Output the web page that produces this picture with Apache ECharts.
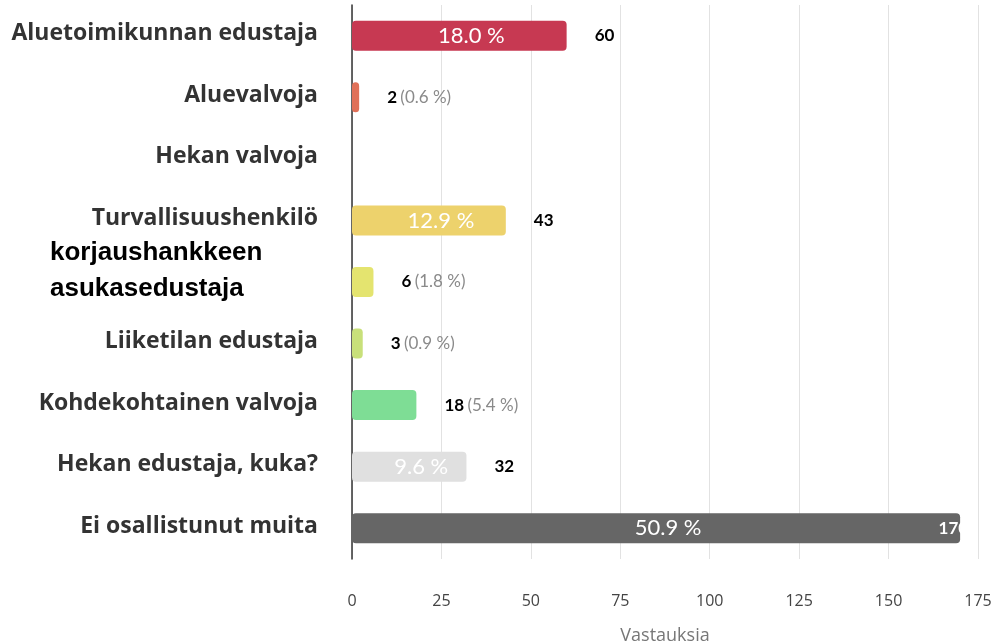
<!DOCTYPE html>
<html>
<head>
<meta charset="utf-8">
<script src="https://cdn.jsdelivr.net/npm/echarts@6/dist/echarts.min.js"></script>
<style>
  html, body { margin: 0; padding: 0; background: #fff; }
  #chart { width: 991px; height: 642px; }
</style>
</head>
<body>
<div id="chart"></div>
<script>
// vastausvaihtoehdot ylhäältä alas
const categories = [
  'Aluetoimikunnan edustaja',
  'Aluevalvoja',
  'Hekan valvoja',
  'Turvallisuushenkilö',
  'korjaushankkeen\nasukasedustaja',
  'Liiketilan edustaja',
  'Kohdekohtainen valvoja',
  'Hekan edustaja, kuka?',
  'Ei osallistunut muita'
];
const counts = [60, 2, 0, 43, 6, 3, 18, 32, 170];
const percents = ['18.0 %', '0.6 %', '0.0 %', '12.9 %', '1.8 %', '0.9 %', '5.4 %', '9.6 %', '50.9 %'];
const barColors = ['#c73952', '#e07058', '#cccccc', '#edd26c', '#e4e46f', '#c8e07a', '#7edd95', '#e0e0e0', '#666666'];
const xTicks = [0, 25, 50, 75, 100, 125, 150, 175];

// isoille palkeille prosentti palkin sisään, muille vain oikealle
const bigBar = v => v >= 30;
const lastIdx = counts.length - 1;

const chart = echarts.init(document.getElementById('chart'));

const option = {
  animation: false,
  grid: { top: 5, bottom: 83, left: 352, right: 13, containLabel: false, outerBoundsMode: 'none' },
  xAxis: {
    type: 'value',
    min: xTicks[0],
    max: xTicks[xTicks.length - 1],
    interval: 25,
    name: 'Vastauksia',
    nameLocation: 'middle',
    nameGap: 68,
    nameTextStyle: { color: '#777', fontSize: 18, fontFamily: 'Open Sans' },
    axisLine: { show: false },
    axisTick: { show: false },
    axisLabel: { color: '#444', fontSize: 16, fontFamily: 'Open Sans', margin: 34 },
    splitLine: { lineStyle: { color: '#e2e2e2', width: 1 } }
  },
  yAxis: {
    type: 'category',
    inverse: true,
    data: categories,
    axisLine: { lineStyle: { color: '#333', width: 1.5 } },
    axisTick: { show: false },
    axisLabel: {
      margin: 34,
      formatter: function (val) {
        if (val.indexOf('\n') >= 0) return '{k|' + val + '}';
        return '{n|' + val + '}';
      },
      rich: {
        n: { color: '#333', fontSize: 23, fontWeight: 'bold', fontFamily: 'Open Sans', padding: [0, 0, 4, 0] },
        k: {
          color: '#000', fontSize: 26, fontWeight: 'bold', fontFamily: 'Liberation Sans',
          lineHeight: 36, width: 268, align: 'left', padding: [0, 0, 22, 0]
        }
      }
    }
  },
  series: [
    {
      type: 'bar',
      barWidth: 30,
      data: counts.map((v, i) => ({
        value: v,
        itemStyle: { color: barColors[i], borderRadius: 4 },
        label: bigBar(v) ? {
          show: true,
          position: 'inside',
          offset: [12, 0],
          formatter: percents[i],
          color: '#fff',
          fontSize: 22,
          fontFamily: 'Lato'
        } : { show: false }
      })),
      z: 2
    },
    {
      // arvo-otsikot palkin oikealle puolelle
      type: 'bar',
      barWidth: 30,
      barGap: '-100%',
      itemStyle: { color: 'transparent' },
      silent: true,
      data: counts.map((v, i) => ({
        value: v,
        label: {
          show: v > 0,
          position: i === lastIdx ? 'insideRight' : 'right',
          distance: i === lastIdx ? 0 : 28,
          offset: i === lastIdx ? [8, 0] : [0, 0],
          formatter: bigBar(v) ? '{b|' + v + '}' : '{b|' + v + '} {p|(' + percents[i] + ')}',
          rich: {
            b: { color: i === lastIdx ? '#fff' : '#000', fontWeight: 'bold', fontSize: 17, fontFamily: 'Lato' },
            p: { color: '#8a8a8a', fontSize: 17, fontFamily: 'Lato' }
          }
        }
      })),
      z: 3
    }
  ]
};

chart.setOption(option);
</script>
</body>
</html>
